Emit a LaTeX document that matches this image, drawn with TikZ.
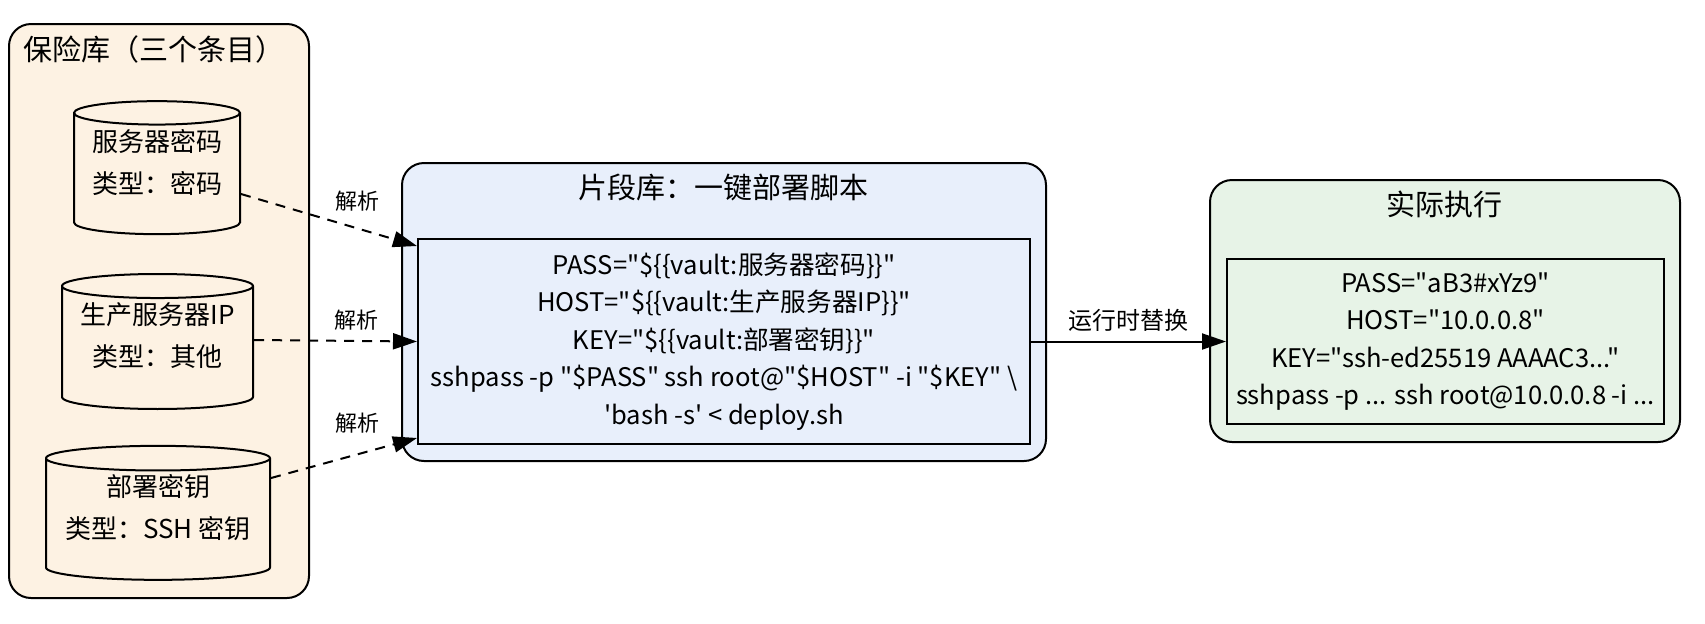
\documentclass[tikz,border=0pt]{standalone}
\usepackage{fontspec}
\setmainfont{Noto Sans CJK SC}[Ligatures=TeXOff]
\usetikzlibrary{shapes.geometric,arrows.meta}
\definecolor{vaultfill}{HTML}{FDF2E3}
\definecolor{snipfill}{HTML}{E8EFFB}
\definecolor{execfill}{HTML}{E7F3E7}
\tikzset{
  cluster/.style={draw, line width=1pt, rounded corners=11pt},
  title/.style={font=\fontsize{14.5pt}{17pt}\selectfont, inner sep=0pt},
  entry/.style={cylinder, shape border rotate=90, draw, line width=1pt, fill=vaultfill,
    align=center, font=\fontsize{13pt}{21pt}\selectfont, inner sep=0pt, text depth=13pt},
  codebox/.style={draw, line width=1pt, align=center, font=\fontsize{12.8pt}{18.75pt}\selectfont},
  lbl/.style={font=\fontsize{11pt}{13pt}\selectfont, inner sep=0pt},
  link/.style={line width=1pt, -{Triangle[length=12pt,width=8pt]}},
}
\begin{document}
\begin{tikzpicture}[x=0.5pt,y=-0.5pt]
\useasboundingbox (0,0) rectangle (1705,623);
% vault with three entries
\node (vault) [cluster, fill=vaultfill, minimum width=150pt, minimum height=287pt] at (159,311) {};
\node (vaulttitle) [title] at (154,49) {保险库（三个条目）};
\node (pass) [entry, aspect=0.18, minimum width=83pt, minimum height=66.5pt] at (157,174) {服务器密码\\类型：密码};
\node (host) [entry, aspect=0.156, minimum width=95.5pt, minimum height=67.5pt] at (157.5,348) {生产服务器IP\\类型：其他};
\node (key) [entry, aspect=0.133, minimum width=112pt, minimum height=67pt] at (158,519.5) {部署密钥\\类型：SSH 密钥};
% snippet
\node (snippet) [cluster, fill=snipfill, minimum width=322pt, minimum height=149pt] at (724,312) {};
\node (snippettitle) [title] at (723,187) {片段库：一键部署脚本};
\node (code) [codebox, fill=snipfill, minimum width=306pt, minimum height=102.5pt] at (724,341.5) {
PASS="\$\{\{vault:服务器密码\}\}"\\
HOST="\$\{\{vault:生产服务器IP\}\}"\\
KEY="\$\{\{vault:部署密钥\}\}"\\
sshpass -p "\$PASS" ssh root@"\$HOST" -i "\$KEY" \textbackslash\\
'bash -s' < deploy.sh
};
% execution
\node (exec) [cluster, fill=execfill, minimum width=235pt, minimum height=131pt] at (1445,311) {};
\node (exectitle) [title] at (1444,204) {实际执行};
\node (real) [codebox, fill=execfill, minimum width=218.5pt, minimum height=82.5pt] at (1445.5,341.5) {
PASS="aB3\#xYz9"\\
HOST="10.0.0.8"\\
KEY="ssh-ed25519 AAAAC3..."\\
sshpass -p ... ssh root@10.0.0.8 -i ...
};
% links
\draw [link, dash pattern=on 5pt off 4pt] ([yshift=-10pt]pass.east) -- ([yshift=-4pt]code.north west)
  node [lbl, pos=0.66, yshift=13.5pt] {解析};
\draw [link, dash pattern=on 5pt off 4pt] ([yshift=4pt]host.east) -- (code.west)
  node [lbl, pos=0.63, yshift=10.5pt] {解析};
\draw [link, dash pattern=on 5pt off 4pt] ([yshift=20.75pt]key.east) -- ([yshift=3.5pt]code.south west)
  node [lbl, pos=0.59, yshift=15.5pt] {解析};
\draw [link] (code.east) -- (real.west) node [lbl, font=\fontsize{12pt}{14pt}\selectfont, midway, yshift=10.75pt] {运行时替换};
\end{tikzpicture}
\end{document}
